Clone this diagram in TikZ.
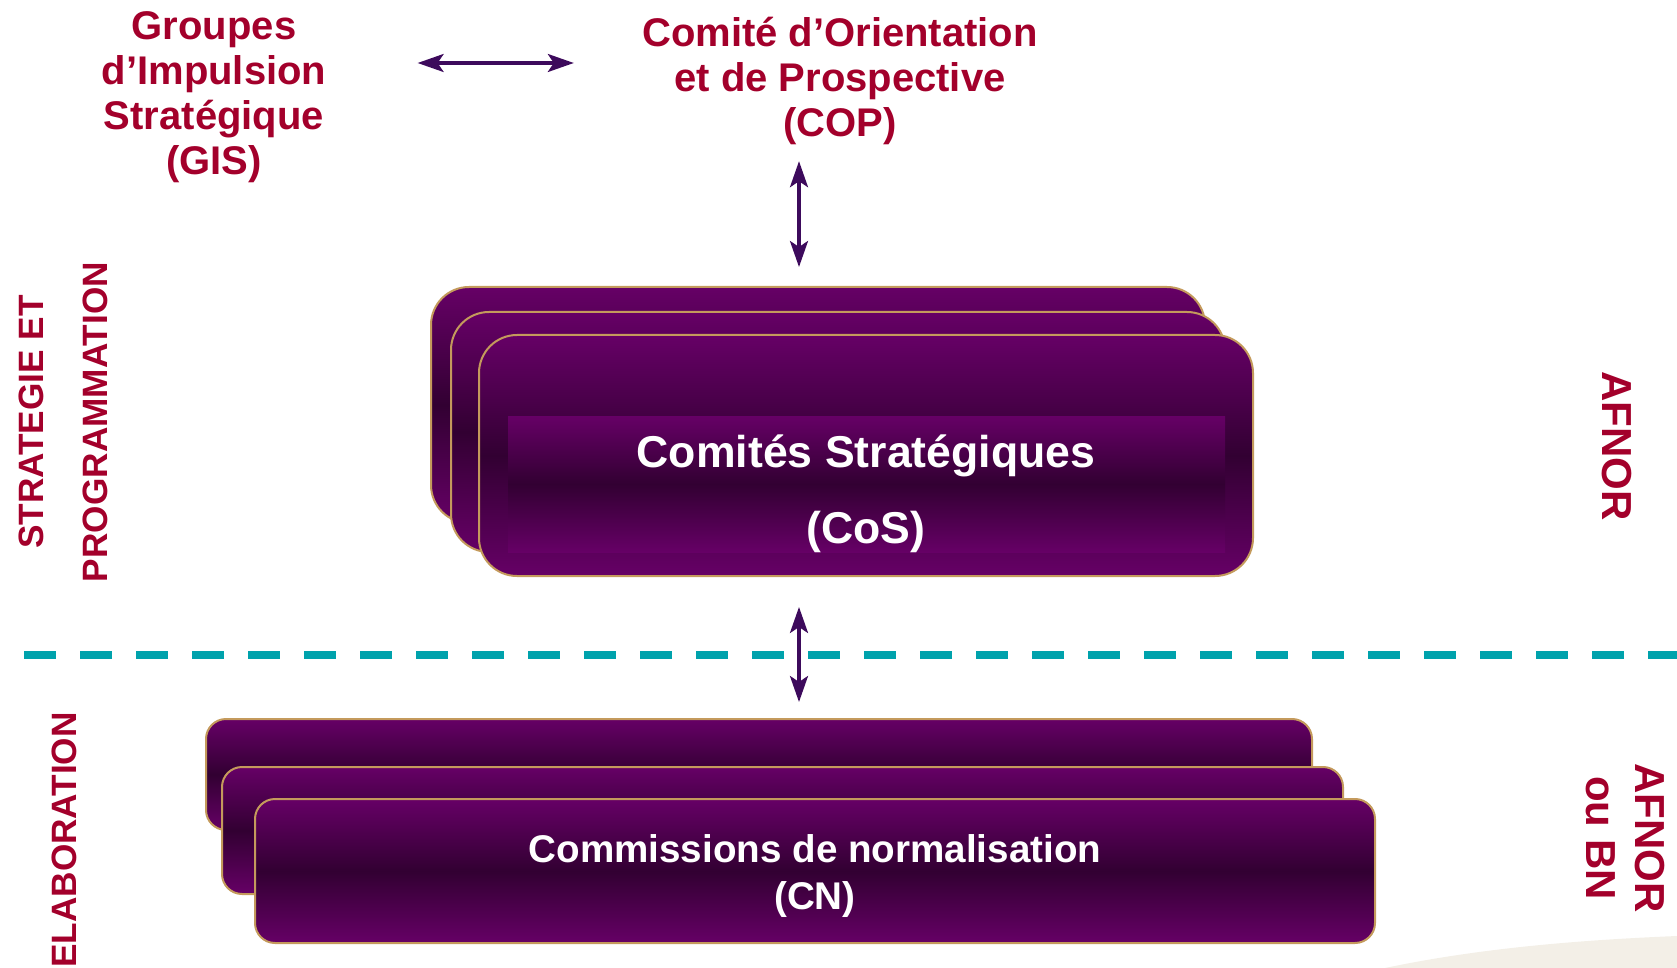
\documentclass[tikz,border=0pt]{standalone}
\usepackage{fontspec}
\setmainfont{Liberation Sans}
\usetikzlibrary{arrows.meta}
\definecolor{afred}{HTML}{A3002B}
\definecolor{plum}{HTML}{660066}
\definecolor{plumdark}{HTML}{320032}
\definecolor{gold}{HTML}{C49A5C}
\definecolor{septeal}{HTML}{00A2AC}
\definecolor{arrowpurple}{HTML}{3D0A5C}
\definecolor{sand}{HTML}{F3EFE7}

\begin{document}
\begin{tikzpicture}[x=0.5pt, y=-0.5pt,
      link/.style={draw=arrowpurple, line width=1.6pt,
        {Stealth[length=13pt,width=9pt,inset=3pt]}-{Stealth[length=13pt,width=9pt,inset=3pt]}},
      title/.style={text=afred, align=center, inner sep=0pt,
        font=\bfseries\fontsize{20}{22.5}\selectfont},
      side/.style={text=afred, align=center, inner sep=0pt,
        font=\bfseries\fontsize{17.6}{32}\selectfont},
      org/.style={text=afred, align=center, inner sep=0pt, rotate=-90,
        font=\bfseries\fontsize{21}{24.5}\selectfont},
      box/.style={rectangle, draw=gold, line width=1pt,
        top color=plum, bottom color=plum, middle color=plumdark},
      cosbox/.style={box, rounded corners=19pt, minimum width=387pt},
      cnbox/.style={box, rounded corners=10pt, minimum width=560pt}]
    \tikzstyle{boxtext} = [text=white, align=center, inner sep=0pt]
    \useasboundingbox (0,0) rectangle (1677,968);
    \fill[sand] (1385,968) .. controls (1480,948) and (1580,940) .. (1677,936)
      -- (1677,968) -- cycle;
    \draw[draw=septeal, line width=4pt, dash pattern=on 16pt off 12pt] (24,655) -- (1677,655);

    \node (gis) [title] at (214,97) {Groupes\\d’Impulsion\\Stratégique\\(GIS)};
    \node (cop) [title] at (840,81) {Comité d’Orientation\\et de Prospective\\(COP)};

    \node (strat) [side, rotate=90] at (63,422) {STRATEGIE ET\\PROGRAMMATION};
    \node (elab) [side, rotate=90] at (64,840) {ELABORATION};
    \node (afnor) [org] at (1617,446) {AFNOR};
    \node (afnorbn) [org] at (1625,838) {AFNOR\\ou BN};

    \node (cos3) [cosbox, minimum height=118pt] at (818,405) {};
    \node (cos2) [cosbox, minimum height=120pt] at (838,432) {};
    \node (cos1) [cosbox, minimum height=120.5pt] at (866,455.5) {};
    \node (band) [rectangle, top color=plum, bottom color=plum, middle color=plumdark,
      minimum width=358.5pt, minimum height=68pt] at (866.5,484) {};
    \node (cos) [boxtext, font=\bfseries\fontsize{22.3}{38}\selectfont] at (866,494)
      {Comités Stratégiques\\(CoS)};

    \node (cn3) [cnbox, minimum width=553pt, minimum height=55.5pt] at (759,774.5) {};
    \node (cn2) [cnbox, minimum width=560.5pt, minimum height=63.5pt] at (782.5,830.5) {};
    \node (cn1) [cnbox, minimum height=72pt] at (815,871) {};
    \node (cn) [boxtext, font=\bfseries\fontsize{19.3}{23.5}\selectfont] at (815,876)
      {Commissions de normalisation\\(CN)};

    \coordinate (axis) at (799,0);
    \coordinate (hline) at (0,63);
    \draw[link, shorten <=45.5pt, shorten >=34pt] (gis.east |- hline) -- (cop.west |- hline);
    \draw[link, shorten <=8pt, shorten >=9.5pt] (cop.south -| axis) -- (cos3.north -| axis);
    \draw[link, shorten <=15pt, shorten >=8pt] (cos1.south -| axis) -- (cn3.north -| axis);
\end{tikzpicture}
\end{document}
